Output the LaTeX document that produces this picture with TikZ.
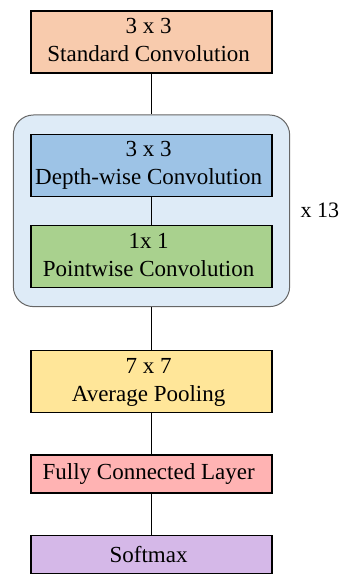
\documentclass[tikz,border=0pt]{standalone}
\usepackage{fontspec}
\setmainfont{Liberation Serif}
\usetikzlibrary{matrix,fit,backgrounds,positioning}
\definecolor{stdorange}{HTML}{F8CBAD}
\definecolor{dwblue}{HTML}{9DC3E6}
\definecolor{pwgreen}{HTML}{A9D18E}
\definecolor{poolyellow}{HTML}{FFE699}
\definecolor{fcpink}{HTML}{FFB3B3}
\definecolor{smpurple}{HTML}{D5B8E8}
\definecolor{grpblue}{HTML}{DEEBF7}
\newcommand{\twoline}[2]{\begin{tabular}{@{}c@{}}#1\\#2\end{tabular}}

\begin{document}
\begin{tikzpicture} [x=1pt, y=1pt,
  layer/.style={draw=black, line width=1.3pt, minimum width=241pt,
    minimum height=62pt, inner sep=0pt, align=center,
    font=\fontsize{23}{28}\selectfont},
  flat/.style={minimum height=38pt},
  group/.style={draw=black!60, line width=1pt, fill=grpblue,
    rounded corners=20pt, inner xsep=17pt, inner ysep=18.5pt},
  conn/.style={line width=1.3pt} ]
  \useasboundingbox (0,0) rectangle (340,-577);
  \matrix (m) [
    matrix of nodes
    , nodes={layer}
    , inner sep=0pt
    , row sep=0pt
    , anchor=north
  ] at (151.5,-10) {
    |[fill=stdorange]| \twoline{3 x 3}{Standard Convolution} \\[60pt]
    |[fill=dwblue]| \twoline{3 x 3}{Depth-wise Convolution} \\[28pt]
    |[fill=pwgreen]| \twoline{1x 1}{Pointwise Convolution} \\[62pt]
    |[fill=poolyellow]| \twoline{7 x 7}{Average Pooling} \\[41pt]
    |[fill=fcpink,flat]| Fully Connected Layer \\[41pt]
    |[fill=smpurple,flat]| Softmax \\
  };
  % repeated block
  \begin{scope}[on background layer]
    \node[group, fit=(m-2-1)(m-3-1)] (grp) {};
  \end{scope}
  \node[right=7pt of grp, font=\fontsize{22}{28}\selectfont] (rep) {x 13};
  \path[conn]
  (m-1-1.south) edge (grp.north)
  (m-2-1.south) edge (m-3-1.north)
  (grp.south) edge (m-4-1.north)
  (m-4-1.south) edge (m-5-1.north)
  (m-5-1.south) edge (m-6-1.north)
  ;
\end{tikzpicture}
\end{document}
